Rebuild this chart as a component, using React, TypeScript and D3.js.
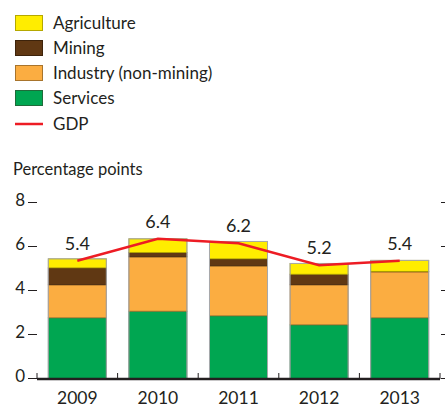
import React from "react";
import * as d3 from "d3";

const years = ["2009", "2010", "2011", "2012", "2013"];
const services = [2.76, 3.06, 2.85, 2.44, 2.76];
const industry = [1.5, 2.47, 2.27, 1.82, 2.09];
const mining = [0.77, 0.2, 0.32, 0.48, 0.02];
const agriculture = [0.41, 0.62, 0.79, 0.49, 0.5];
const gdp = [5.35, 6.35, 6.15, 5.15, 5.35];
const gdpLabels = ["5.4", "6.4", "6.2", "5.2", "5.4"];
const yTicks = [0, 2, 4, 6, 8];

const seriesNames = ["Services", "Industry (non-mining)", "Mining", "Agriculture"];
const seriesData = [services, industry, mining, agriculture];
const fills = ["#00A651", "#FBAD41", "#603813", "#FFED00"];
const strokes = ["#1f6b3a", "#a8742c", "#3d230b", "#b5a800"];
const legendOrder = [3, 2, 1, 0];

const FONT = "Lato, 'Open Sans', sans-serif";

export default function App() {
  const W = 445, H = 407;
  const x = d3.scaleBand<string>().domain(years).range([37, 440]).paddingInner(0.28).paddingOuter(0.14);
  const y = d3.scaleLinear().domain([0, 8]).range([378.5, 202.5]);

  const table = years.map((yr, i) => {
    const row: any = { year: yr };
    seriesNames.forEach((s, k) => (row[s] = seriesData[k][i]));
    return row;
  });
  const stack = d3.stack<any>().keys(seriesNames)(table);

  const line = d3.line<number>()
    .x((_, i) => (x(years[i]) as number) + x.bandwidth() / 2)
    .y((d) => y(d));

  const boundaries = years.map((yr) => (x(yr) as number) - (x.step() * x.paddingInner()) / 2);
  boundaries.push(440);

  return (
    <svg width={W} height={H} style={{ position: "absolute", left: 0, top: 0 }} fontFamily={FONT}>
      <rect width={W} height={H} fill="#fff" />
      {/* legend */}
      {legendOrder.map((k, j) => (
        <g key={k}>
          <rect x={15.5} y={15.5 + j * 25} width={27} height={15} fill={fills[k]} stroke={strokes[k]} strokeWidth={1} />
          <text x={53} y={29} fontSize={17} fill="#231f20" transform={`translate(0,${j * 25})`}>{seriesNames[k]}</text>
        </g>
      ))}
      <line x1={15} x2={43} y1={124} y2={124} stroke="#ED1C24" strokeWidth={2.5} />
      <text x={53} y={130} fontSize={17} fill="#231f20">GDP</text>

      <text x={13} y={175} fontSize={16.5} fill="#231f20">Percentage points</text>

      {/* y ticks */}
      {yTicks.map((t) => (
        <g key={t}>
          <text x={25} y={y(t) + 3} fontSize={17} textAnchor="end" fill="#231f20">{t}</text>
          <line x1={28} x2={37} y1={y(t)} y2={y(t)} stroke="#231f20" strokeWidth={1} />
          <line x1={441} x2={445} y1={y(t)} y2={y(t)} stroke="#231f20" strokeWidth={1} />
        </g>
      ))}

      {/* bars */}
      {stack.map((layer, k) => (
        <g key={k}>
          {layer.map((d, i) => (
            <rect
              key={i}
              x={x(years[i])}
              width={x.bandwidth()}
              y={y(d[1])}
              height={Math.max(0, y(d[0]) - y(d[1]))}
              fill={fills[k]}
              stroke={strokes[k]}
              strokeWidth={0.8}
            />
          ))}
        </g>
      ))}
      {years.map((yr, i) => {
        const top = stack[stack.length - 1][i][1];
        return (
          <rect key={yr} x={x(yr)} width={x.bandwidth()} y={y(top)} height={y(0) - y(top)}
            fill="none" stroke="#a7a9ac" strokeWidth={1} />
        );
      })}

      {/* GDP line */}
      <path d={line(gdp) || ""} fill="none" stroke="#ED1C24" strokeWidth={2.5} />
      {gdpLabels.map((l, i) => (
        <text key={i} x={(x(years[i]) as number) + x.bandwidth() / 2} y={y(gdp[i]) - 11}
          fontSize={18} textAnchor="middle" fill="#231f20">{l}</text>
      ))}

      {/* x axis */}
      <line x1={37} x2={440} y1={379} y2={379} stroke="#231f20" strokeWidth={2.5} />
      {boundaries.map((b, i) => (
        <line key={i} x1={b} x2={b} y1={373} y2={379} stroke="#231f20" strokeWidth={1} />
      ))}
      {years.map((yr) => (
        <text key={yr} x={(x(yr) as number) + x.bandwidth() / 2} y={404} fontSize={17.5}
          textAnchor="middle" fill="#231f20">{yr}</text>
      ))}
    </svg>
  );
}
